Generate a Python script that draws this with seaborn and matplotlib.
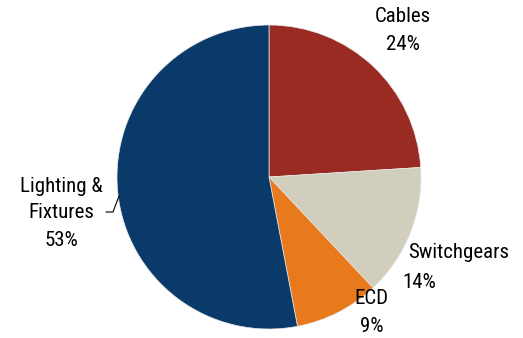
import matplotlib
matplotlib.use("Agg")
import matplotlib.pyplot as plt
from matplotlib import font_manager
import seaborn as sns

# Market share by product segment
categories = ["Cables", "Switchgears", "ECD", "Lighting &\nFixtures"]
shares = [24, 14, 9, 53]
colors = ["#992B22", "#D1CEBD", "#E8791C", "#0A3A69"]

sns.set_theme(style="white")

available = {f.name for f in font_manager.fontManager.ttflist}
family = next((f for f in ["Liberation Sans Narrow", "Roboto Condensed", "Roboto", "DejaVu Sans"]
               if f in available), "DejaVu Sans")
plt.rcParams["font.family"] = [family, "DejaVu Sans"]

W, H = 523, 338
fig = plt.figure(figsize=(W / 100, H / 100), dpi=100)
ax = fig.add_axes([0, 0, 1, 1])

cx, cy, r = 269, H - 177, 152
ax.pie(shares, colors=colors, startangle=90, counterclock=False,
       center=(cx, cy), radius=r,
       wedgeprops=dict(linewidth=0.5, edgecolor="#e8e8e8"))
ax.set_xlim(0, W)
ax.set_ylim(0, H)
ax.set_aspect("equal")
ax.axis("off")

fs = 15
# (name position, percent position, alignment) in pixel coordinates from top-left
label_pos = {
    "Cables": ((403, 17), (403, 45), "center"),
    "Switchgears": ((408, 253), (402, 282), "left"),
    "ECD": ((371, 298), (372, 327), "center"),
}
for name, share in zip(categories, shares):
    if name in label_pos:
        (nx, ny), (px, py), ha = label_pos[name]
        ax.text(nx, H - ny, name, ha=ha, va="center", fontsize=fs, color="black")
        ax.text(px, H - py, f"{share}%", ha=ha, va="center", fontsize=fs, color="black")
    else:
        ax.text(61, H - 187, "Lighting &", ha="center", va="center", fontsize=fs, color="black")
        ax.text(61, H - 213, "Fixtures", ha="center", va="center", fontsize=fs, color="black")
        ax.text(61, H - 240, f"{share}%", ha="center", va="center", fontsize=fs, color="black")

# leader line to the Lighting & Fixtures wedge
ax.plot([106, 113, 119], [H - 212, H - 212, H - 196], color="black", lw=0.8)

fig.savefig("out.png", dpi=100)
